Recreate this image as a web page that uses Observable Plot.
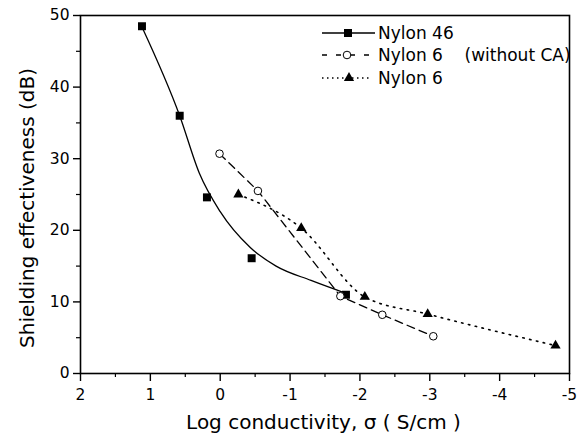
<!DOCTYPE html>
<html>
<head>
<meta charset="utf-8">
<script src="https://cdn.jsdelivr.net/npm/d3@7"></script>
<script src="https://cdn.jsdelivr.net/npm/@observablehq/plot@0.6"></script>
<style>
  html, body { margin: 0; padding: 0; background: white; }
</style>
</head>
<body>
<div id="chart"></div>
<script>
// Nylon 46 measured points (squares)
const nylon46X = [1.12, 0.58, 0.19, -0.45, -1.80];
const nylon46Y = [48.5, 36.0, 24.6, 16.1, 11.0];
// Nylon 46 fitted curve
const fit46X = [1.12, 0.58, 0.30, 0.0, -0.43, -0.80, -1.30, -1.80];
const fit46Y = [48.4, 36.0, 28.0, 22.6, 17.6, 15.0, 13.0, 11.2];
// Nylon 6 (without CA) (open circles)
const nylon6woX = [0.01, -0.54, -1.72, -2.32, -3.05];
const nylon6woY = [30.7, 25.5, 10.8, 8.2, 5.2];
// Nylon 6 (triangles)
const nylon6X = [-0.26, -1.16, -2.07, -2.97, -4.80];
const nylon6Y = [25.0, 20.3, 10.7, 8.3, 3.9];

const xTicks = [2, 1, 0, -1, -2, -3, -4, -5];
const xMinor = [1.5, 0.5, -0.5, -1.5, -2.5, -3.5, -4.5];
const yTicks = [0, 10, 20, 30, 40, 50];
const yMinor = [5, 15, 25, 35, 45];

const xTitle = "Log conductivity, \u03c3 ( S/cm )";
const yTitle = "Shielding effectiveness (dB)";
const seriesNames = ["Nylon 46", "Nylon 6    (without CA)", "Nylon 6"];

const zip = (xs, ys) => xs.map((x, i) => ({x, y: ys[i]}));
const pts46 = zip(nylon46X, nylon46Y);
const fit46 = zip(fit46X, fit46Y);
const ptsWo = zip(nylon6woX, nylon6woY);
const pts6 = zip(nylon6X, nylon6Y);

const FONT = "DejaVu Sans";
const R_SQ = 4.5, R_TRI = 3.8, R_CIR = 3.8;

const chart = Plot.plot({
  width: 584,
  height: 442,
  marginLeft: 80,
  marginRight: 15,
  marginTop: 15,
  marginBottom: 69,
  style: {fontFamily: FONT, fontSize: "15.5px", color: "black", background: "white"},
  x: {domain: [2, -5]},
  y: {domain: [0, 50]},
  marks: [
    Plot.axisX({ticks: xTicks, tickSize: 8, tickPadding: 7, tickFormat: d => String(d), label: null, strokeWidth: 1.4}),
    Plot.axisX({ticks: xMinor, tickSize: 4, tickFormat: () => "", label: null, strokeWidth: 1.2}),
    Plot.axisY({ticks: yTicks, tickSize: 7, tickPadding: 4, tickFormat: d => String(d), label: null, strokeWidth: 1.4}),
    Plot.axisY({ticks: yMinor, tickSize: 4, tickFormat: () => "", label: null, strokeWidth: 1.2}),
    Plot.frame({stroke: "black", strokeWidth: 1.6}),
    Plot.line(fit46, {x: "x", y: "y", curve: "monotone-x", stroke: "black", strokeWidth: 1.3}),
    Plot.line(ptsWo, {x: "x", y: "y", stroke: "black", strokeWidth: 1.3, strokeDasharray: "8,5"}),
    Plot.line(pts6, {x: "x", y: "y", curve: "monotone-x", stroke: "black", strokeWidth: 1.6, strokeDasharray: "1.5,5.5"}),
    Plot.dot(pts46, {x: "x", y: "y", symbol: "square", r: R_SQ, fill: "black", stroke: "none"}),
    Plot.dot(pts6, {x: "x", y: "y", symbol: "triangle", r: R_TRI, fill: "black", stroke: "none"}),
    Plot.dot(ptsWo, {x: "x", y: "y", symbol: "circle", r: R_CIR, fill: "white", stroke: "black", strokeWidth: 1}),
    Plot.text([xTitle], {text: d => d, frameAnchor: "bottom", textAnchor: "middle", dx: -1.5, dy: 49, lineAnchor: "middle", fontSize: 20}),
    Plot.text([yTitle], {text: d => d, frameAnchor: "left", textAnchor: "middle", rotate: -90, dx: -53, dy: 13.5, lineAnchor: "middle", fontSize: 20})
  ]
});

// Legend (inside the frame, top right)
const svg = d3.select(chart);
const lg = svg.append("g").attr("font-family", FONT).attr("font-size", 17).attr("text-anchor", "start");
const rows = [
  {y: 33, dash: null, sym: d3.symbolSquare, r: R_SQ, fill: "black", stroke: "none", mx: 348, x2: 375, sw: 1.3},
  {y: 55, dash: "5,9", sym: d3.symbolCircle, r: R_CIR, fill: "white", stroke: "black", mx: 347, x2: 369, sw: 1.3},
  {y: 78, dash: "1.5,3.5", sym: d3.symbolTriangle, r: R_TRI, fill: "black", stroke: "none", mx: 349, x2: 370, sw: 1.5}
];
rows.forEach((row, i) => {
  lg.append("line")
    .attr("x1", 322).attr("x2", row.x2).attr("y1", row.y).attr("y2", row.y)
    .attr("stroke", "black").attr("stroke-width", row.sw)
    .attr("stroke-dasharray", row.dash);
  lg.append("path")
    .attr("d", d3.symbol().type(row.sym).size(Math.PI * row.r * row.r)())
    .attr("transform", `translate(${row.mx},${row.y})`)
    .attr("fill", row.fill).attr("stroke", row.stroke).attr("stroke-width", 1);
  lg.append("text")
    .attr("x", 378).attr("y", row.y).attr("dy", "0.36em")
    .attr("text-anchor", "start")
    .style("white-space", "pre")
    .attr("fill", "black")
    .text(seriesNames[i]);
});

document.getElementById("chart").appendChild(chart);
</script>
</body>
</html>
